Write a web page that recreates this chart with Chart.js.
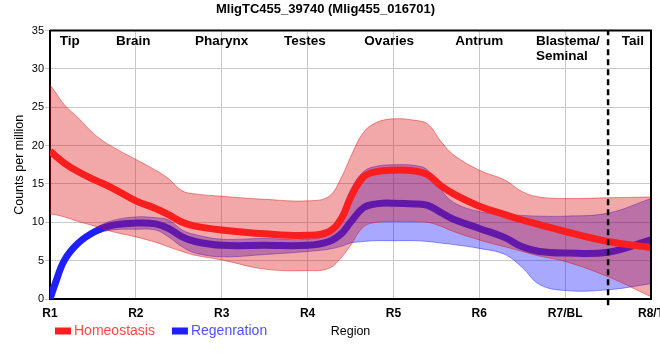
<!DOCTYPE html>
<html><head><meta charset="utf-8">
<script src="https://cdn.jsdelivr.net/npm/chart.js@4/dist/chart.umd.min.js"></script>
<style>html,body{margin:0;padding:0;background:#fff}</style>
</head><body>
<canvas id="c" width="660" height="360"></canvas>
<script>
// ---- data ----
const regionTicks = ['R1','R2','R3','R4','R5','R6','R7/BL','R8/T'];
const tissueNames = ['Tip','Brain','Pharynx','Testes','Ovaries','Antrum',['Blastema/','Seminal'],'Tail'];
const tissueAt    = [0.23, 0.97, 2.0, 2.97, 3.95, 5.0, 5.66, 6.79];
const tissueAlign = ['center','center','center','center','center','center','left','center'];
const boundaryAt  = 6.5;
const samplePos   = [0,0.06,0.17,0.33,0.525,0.72,1,1.23,1.38,1.54,1.69,2,2.5,3,3.25,3.4,3.5,3.65,3.8,4,4.25,4.4,4.55,4.7,5,5.3,5.5,5.7,6,6.5,7];
const homeoMean   = [19.3,18.7,17.7,16.6,15.5,14.5,12.8,11.8,11.0,10.0,9.5,9.0,8.5,8.3,8.8,10.6,13.2,15.9,16.6,16.8,16.7,16.2,14.8,13.7,12.1,11.0,10.3,9.7,8.8,7.5,6.7];
const homeoHigh   = [27.9,27.0,25.3,23.6,21.4,19.9,18.2,16.8,15.7,14.1,13.7,13.4,13.0,12.8,13.4,16.0,18.5,21.7,23.0,23.5,23.3,22.8,20.6,18.8,16.8,15.5,14.0,13.3,13.1,13.2,13.3];
const homeoLow    = [11.1,11.0,10.7,10.1,9.5,8.8,8.1,7.4,6.8,6.2,5.7,5.1,3.9,3.7,4.0,5.5,7.0,9.4,10.0,10.1,10.1,10.0,9.5,8.8,7.7,6.8,6.2,5.6,4.9,2.9,0.3];
const regenMean   = [0.0,2.0,5.1,7.3,8.8,9.6,9.9,9.8,9.2,8.1,7.5,7.0,7.0,7.0,7.5,8.6,10.0,11.9,12.4,12.5,12.4,12.2,11.3,10.4,9.2,8.0,6.8,6.2,6.0,6.1,7.7];
const regenHigh   = [0.3,2.3,5.4,7.6,9.2,10.2,10.7,10.6,10.3,9.0,8.4,7.8,7.9,7.8,8.6,11.5,14.2,16.6,17.3,17.5,17.4,16.8,14.3,12.6,11.4,11.0,10.9,10.8,10.8,11.2,13.1];
const regenLow    = [0.0,1.7,4.8,7.0,8.4,9.0,9.1,9.0,8.1,6.8,6.0,5.5,5.8,6.2,6.5,6.9,7.3,7.5,7.6,7.6,7.6,7.5,7.3,7.1,6.6,5.8,4.1,1.9,1.1,1.2,2.0];

const pts = arr => samplePos.map((x, i) => ({x, y: arr[i]}));

const SANS = '"Liberation Sans", Arial, sans-serif';

const redLine = '#fa1e1e', redBand = 'rgba(219,13,13,0.36)', redEdge = 'rgba(219,13,13,0.45)';
const blueLine = '#1e1eff', blueBand = 'rgba(0,0,255,0.34)', blueEdge = 'rgba(0,0,255,0.40)';

const frame = {
  id: 'frame',
  afterDatasetsDraw(chart) {
    const {ctx, chartArea: a} = chart;
    ctx.save();
    ctx.strokeStyle = '#000'; ctx.lineWidth = 2;
    ctx.beginPath();
    ctx.moveTo(a.left, a.top); ctx.lineTo(a.right, a.top); ctx.lineTo(a.right, a.bottom);
    ctx.stroke();
    ctx.restore();
  }
};

const tissueLabels = {
  id: 'tissueLabels',
  afterDraw(chart) {
    const {ctx, scales: {x}} = chart;
    ctx.save();
    ctx.font = 'bold 13.5px ' + SANS;
    ctx.fillStyle = '#000';
    ctx.textBaseline = 'alphabetic';
    tissueNames.forEach((t, i) => {
      const px = x.getPixelForValue(tissueAt[i]);
      ctx.textAlign = tissueAlign[i];
      const lines = Array.isArray(t) ? t : [t];
      lines.forEach((ln, j) => ctx.fillText(ln, px, 45 + j * 15));
    });
    ctx.restore();
  }
};

const rowLegend = {
  id: 'rowLegend',
  afterDraw(chart, args, opts) {
    const ctx = chart.ctx;
    ctx.save();
    ctx.font = '14px ' + SANS;
    ctx.textBaseline = 'middle';
    ctx.textAlign = 'left';
    let x = opts.x; const y = opts.y;
    opts.items.forEach(it => {
      const ds = chart.data.datasets[it.index];
      ctx.fillStyle = ds.borderColor;
      ctx.fillRect(x, y - 3.5, 16, 7);
      ctx.fillStyle = it.textColor;
      ctx.fillText(ds.label, x + 19, y);
      x += 19 + ctx.measureText(ds.label).width + 17;
    });
    ctx.restore();
  }
};

const base = {pointRadius: 0, pointHoverRadius: 0, cubicInterpolationMode: 'default', tension: 0.4, clip: 0};

new Chart(document.getElementById('c'), {
  type: 'line',
  data: {
    datasets: [
      {label: 'boundary', data: [{x: boundaryAt, y: -0.8}, {x: boundaryAt, y: 35}], borderColor: '#000', borderWidth: 2.5, borderDash: [6, 4], pointRadius: 0, fill: false, clip: false},
      {...base, label: 'Homeostasis', data: pts(homeoMean), borderColor: redLine, borderWidth: 7, fill: false},
      {...base, label: 'homeoHigh', data: pts(homeoHigh), borderColor: redEdge, borderWidth: 1, backgroundColor: redBand, fill: '+1'},
      {...base, label: 'homeoLow', data: pts(homeoLow), borderColor: redEdge, borderWidth: 1, fill: false},
      {...base, label: 'Regenration', data: pts(regenMean), borderColor: blueLine, borderWidth: 7, fill: false},
      {...base, label: 'regenHigh', data: pts(regenHigh), borderColor: blueEdge, borderWidth: 1, backgroundColor: blueBand, fill: '+1'},
      {...base, label: 'regenLow', data: pts(regenLow), borderColor: blueEdge, borderWidth: 1, fill: false}
    ]
  },
  options: {
    responsive: false,
    animation: false,
    devicePixelRatio: 1,
    events: [],
    layout: {padding: {left: 0, right: 9, top: 0, bottom: 0}},
    plugins: {
      legend: {display: false},
      tooltip: {enabled: false},
      title: {display: true, text: 'MligTC455_39740 (Mlig455_016701)', color: '#000',
        font: {family: SANS, size: 13, weight: 'bold'}, padding: {top: 2, bottom: 13}},
      rowLegend: {x: 55, y: 331, items: [{index: 1, textColor: '#ff4848'}, {index: 4, textColor: '#5050ff'}]}
    },
    scales: {
      x: {
        type: 'linear', min: 0, max: 7,
        ticks: {stepSize: 1, autoSkip: false, maxRotation: 0, padding: 7, color: '#000',
          font: {family: SANS, size: 12, weight: 'bold'},
          callback: v => regionTicks[v]},
        grid: {color: '#c8c8c8', lineWidth: 1, tickLength: 0},
        border: {color: '#000', width: 2},
        title: {display: true, text: 'Region', color: '#000', font: {family: SANS, size: 12.5}, padding: {top: 0, bottom: 21}},
        afterFit(s) { s.height = 61; s.paddingLeft = 0; s.paddingRight = 0; }
      },
      y: {
        min: 0, max: 35,
        ticks: {stepSize: 5, padding: 1, color: '#000', font: {family: SANS, size: 11}},
        grid: {color: '#c8c8c8', lineWidth: 1, tickLength: 5},
        border: {color: '#000', width: 2},
        title: {display: true, text: 'Counts per million', color: '#000', font: {family: SANS, size: 12.5}, padding: {top: 12, bottom: 0}},
        afterFit(s) { s.width = 50; }
      }
    }
  },
  plugins: [frame, tissueLabels, rowLegend]
});
</script>
</body></html>
